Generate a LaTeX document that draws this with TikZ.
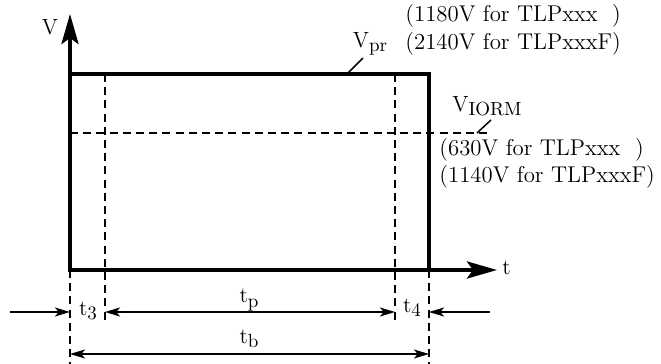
\documentclass[tikz,border=0pt]{standalone}
\usetikzlibrary{arrows.meta}
\newcommand\lowsub[1]{\raisebox{-0.45ex}{\fontsize{9.5}{10}\selectfont #1}}
\tikzset{
  axis/.style={line width=2pt, line cap=rect},
  guide/.style={dash pattern=on 4pt off 2.6pt, line width=0.75pt},
  dim/.style={line width=0.75pt},
  bigtip/.style={-{Stealth[length=15pt, width=8.5pt, inset=3pt]}},
  tip/.style={-{Stealth[length=7.5pt, width=4.5pt, inset=1.8pt]}},
  tips/.style={{Stealth[length=7.5pt, width=4.5pt, inset=1.8pt]}-{Stealth[length=7.5pt, width=4.5pt, inset=1.8pt]}},
  lbl/.style={inner sep=0pt, font=\fontsize{11}{13}\selectfont},
  note/.style={inner sep=0pt, anchor=west, font=\fontsize{11.4}{13}\selectfont},
}
\begin{document}
\begin{tikzpicture}[x=0.5pt, y=-0.5pt]
\useasboundingbox (0,0) rectangle (661,364);
% points of the pulse
\coordinate (O) at (70,270);
\coordinate (vend) at (70,14);
\coordinate (tend) at (497,270);
\coordinate (p1) at (70,74);
\coordinate (p2) at (429,74);
\coordinate (p3) at (429,270);
\coordinate (a1) at (105,74);
\coordinate (a1b) at (105,322);
\coordinate (a2) at (395,74);
\coordinate (a2b) at (395,322);
\coordinate (b0) at (70,364);
\coordinate (b1) at (429,364);
\coordinate (h0) at (70,133);
\coordinate (h1) at (490,133);
% axes and pulse
\draw[axis] (p1) -- (p2) -- (p3);
\draw[axis, bigtip] (O) -- (vend);
\draw[axis, bigtip] (O) -- (tend);
\node[lbl] (vlab) at (50,27) {V};
\node[lbl, anchor=west] (tlab) at (502,268) {t};
% dashed guides
\draw[guide] (a1) -- (a1b);
\draw[guide] (a2) -- (a2b);
\draw[guide] (O) -- (b0);
\draw[guide] (p3) -- (b1);
\draw[guide] (h0) -- (h1);
% levels
\node[lbl] (vpr) at (370,44) {V\lowsub{pr}};
\coordinate (vprA) at (348,73);
\coordinate (vprB) at (363,58);
\draw[dim] (vprA) -- (vprB);
\node[lbl] (viorm) at (487,106) {V\lowsub{IORM}};
\coordinate (vioA) at (477,133);
\coordinate (vioB) at (491,120);
\draw[dim] (vioA) -- (vioB);
\node[note] (n1) at (405,16) {(1180V for TLPxxx\phantom{F})};
\node[note] (n2) at (405,44) {(2140V for TLPxxxF)};
\node[note] (n3) at (439,150) {(630V for TLPxxx\phantom{F})};
\node[note] (n4) at (439,177) {(1140V for TLPxxxF)};
% time spans
\coordinate (r0) at (10,312);
\coordinate (r1) at (70,312);
\coordinate (r2) at (105,312);
\coordinate (r3) at (395,312);
\coordinate (r4) at (429,312);
\coordinate (r5) at (490,312);
\coordinate (s0) at (70,354);
\coordinate (s1) at (429,354);
\draw[dim, tip] (r0) -- (r1);
\draw[dim, tips] (r2) -- (r3);
\draw[dim, tip] (r5) -- (r4);
\draw[dim, tips] (s0) -- (s1);
\node[lbl] (t3) at (88,311) {t\lowsub{3}};
\node[lbl] (tp) at (249,300) {t\lowsub{p}};
\node[lbl] (t4) at (412,308) {t\lowsub{4}};
\node[lbl] (tb) at (249,339) {t\lowsub{b}};
\end{tikzpicture}
\end{document}
